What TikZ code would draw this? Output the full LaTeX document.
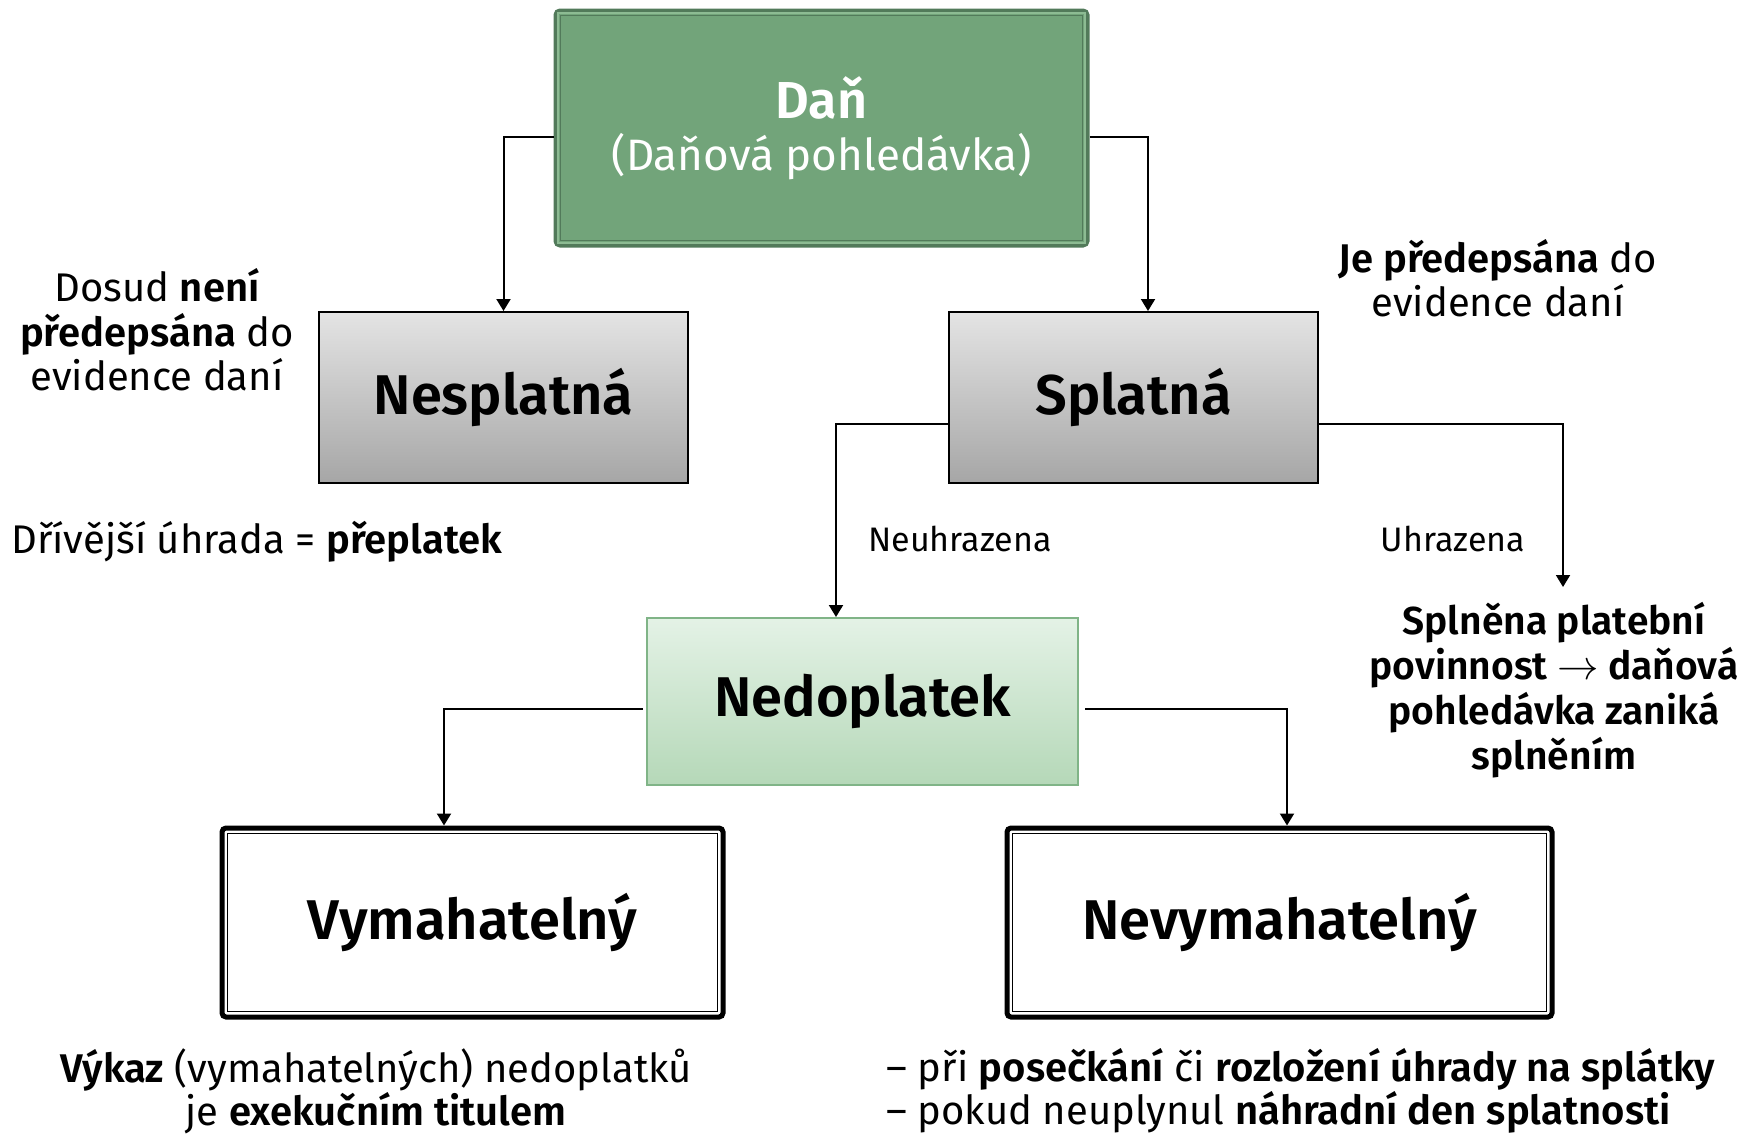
\documentclass[tikz,border=0pt]{standalone}
\usepackage{fontspec}
\setmainfont{Fira Sans}[BoldFont={Fira Sans SemiBold}]
\usetikzlibrary{arrows.meta,calc}
\definecolor{danfill}{HTML}{72A47A}
\definecolor{danborder}{HTML}{527A5A}
\definecolor{danlight}{HTML}{8DBB93}
\definecolor{graytop}{HTML}{E4E4E4}
\definecolor{graybot}{HTML}{A6A6A6}
\definecolor{nedtop}{HTML}{E4F2E6}
\definecolor{nedbot}{HTML}{B5D8B8}
\definecolor{nedborder}{HTML}{80B487}
\tikzset{
  conn/.style={line width=1pt,-{Triangle[length=6pt,width=7pt]}},
  danbox/.style={draw=danborder,fill=danfill,line width=2.5pt,rounded corners=2pt,minimum width=265.5pt,minimum height=117pt,inner sep=0pt,align=center,text=white},
  graybox/.style={draw=black,line width=1pt,top color=graytop,bottom color=graybot,minimum width=184.5pt,minimum height=85.5pt,inner sep=0pt,font=\fontsize{28}{34}\selectfont\bfseries},
  nedbox/.style={draw=nedborder,line width=1pt,top color=nedtop,bottom color=nedbot,minimum width=215.5pt,minimum height=83.5pt,inner sep=0pt,font=\fontsize{28}{34}\selectfont\bfseries},
  vymbox/.style={draw=black,line width=2.5pt,rounded corners=2pt,fill=white,minimum height=94.5pt,inner sep=0pt,font=\fontsize{28}{34}\selectfont\bfseries},
  note/.style={align=center,inner sep=0pt,font=\fontsize{20}{22.25}\selectfont},
  lbl/.style={inner sep=0pt,font=\fontsize{17}{20}\selectfont}
}
\begin{document}
\begin{tikzpicture}[x=0.5pt,y=-0.5pt]
\useasboundingbox (0,0) rectangle (1744,1135);
% boxes
\node[danbox] (dan) at (821.5,128) {{\fontsize{26}{30}\selectfont\bfseries Daň}\\[6pt]{\fontsize{22}{26}\selectfont (Daňová pohledávka)}};
\draw[danlight,line width=0.8pt] ($(dan.north west)+(4.5,4.5)$) rectangle ($(dan.south east)+(-4.5,-4.5)$);
\draw[danborder,line width=0.8pt] ($(dan.north west)+(7,7)$) rectangle ($(dan.south east)+(-7,-7)$);
\node[graybox] (nespl) at (503.5,397.5) {Nesplatná};
\node[graybox] (spl) at (1133.5,397.5) {Splatná};
\node[nedbox] (ned) at (862.5,701.5) {Nedoplatek};
\node[vymbox,minimum width=250.5pt] (vym) at (472.5,922.5) {Vymahatelný};
\draw[line width=0.8pt] ($(vym.north west)+(8,8)$) rectangle ($(vym.south east)+(-8,-8)$);
\node[vymbox,minimum width=272.5pt] (nev) at (1279.5,922.5) {Nevymahatelný};
\draw[line width=0.8pt] ($(nev.north west)+(8,8)$) rectangle ($(nev.south east)+(-8,-8)$);
% texts
\node[note] (dosud) at (157,330) {Dosud \textbf{není}\\\textbf{předepsána} do\\evidence daní};
\node[note] (driv) at (257,542) {Dřívější úhrada = \textbf{přeplatek}};
\node[note] (jepred) at (1498,278) {\textbf{Je předepsána} do\\evidence daní};
\node[lbl] (neuhr) at (960,539) {Neuhrazena};
\node[lbl] (uhr) at (1453,539) {Uhrazena};
\node[note,font=\fontsize{19.5}{22.6}\selectfont\bfseries] (splnena) at (1554,690) {Splněna platební\\povinnost $\rightarrow$ daňová\\pohledávka zaniká\\splněním};
\node[note,font=\fontsize{20}{21.5}\selectfont] (vykaz) at (376,1091) {\textbf{Výkaz} (vymahatelných) nedoplatků\\je \textbf{exekučním titulem}};
\node[note,align=left,anchor=west,font=\fontsize{20}{21.5}\selectfont] (posek) at (886,1091) {– při \textbf{posečkání} či \textbf{rozložení úhrady na splátky}\\– pokud neuplynul \textbf{náhradní den splatnosti}};
\coordinate (uhrend) at (1563,587);
% connectors
\draw[conn] ($(dan.west)+(0,9)$) -| (nespl.north);
\draw[conn] ($(dan.east)+(0,9)$) -| ($(spl.north)+(14.5,0)$);
\draw[conn] ($(spl.west)+(0,26.5)$) -| ($(ned.north)+(-26.5,0)$);
\draw[conn] ($(spl.east)+(0,26.5)$) -| (uhrend);
\draw[conn] ($(ned.west)+(-3,7.5)$) -| ($(vym.north)+(-28.5,0)$);
\draw[conn] ($(ned.east)+(6,7.5)$) -| ($(nev.north)+(7.5,0)$);
\end{tikzpicture}
\end{document}
